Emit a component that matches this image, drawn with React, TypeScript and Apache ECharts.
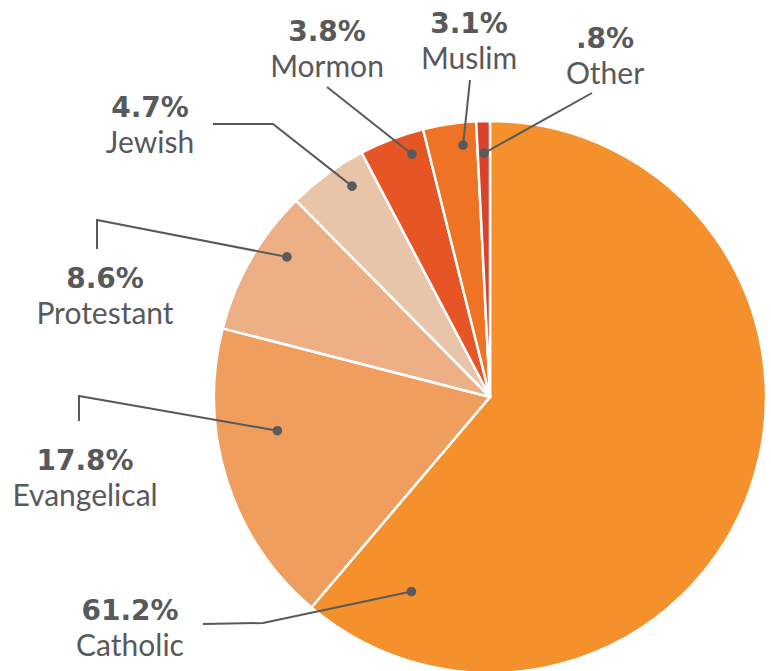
import React, { useEffect, useRef } from 'react';
import * as echarts from 'echarts';

const categories = ['Catholic', 'Evangelical', 'Protestant', 'Jewish', 'Mormon', 'Muslim', 'Other'];
const values = [61.2, 17.8, 8.6, 4.7, 3.8, 3.1, 0.8];
const colors = ['#F5912D', '#EF9E5E', '#EDAF85', '#E8C4A9', '#E55526', '#EE7324', '#D8432B'];

const CX = 490;
const CY = 397;
const R = 276;
const INK = '#58595B';

// Leader-line layout per slice: dot (angle clockwise from top, radius fraction), bends, label anchor
const dotAngles = [202, 261, 304.6, 326.8, 342.2, 353.9, 358.6];
const dotRadii = [0.76, 0.78, 0.894, 0.913, 0.924, 0.918, 0.884];
const bends: number[][][] = [
  [[263, 623], [203, 624]],
  [[79, 396], [79, 421]],
  [[97, 220], [97, 249]],
  [[273, 124], [213, 124]],
  [[327, 87]],
  [[470, 80]],
  [[592, 93]],
];
const labelAnchors = [
  [130, 627],
  [85, 477],
  [105, 295],
  [150, 124],
  [327, 48],
  [469, 40],
  [605, 55],
];

function fmt(v: number): string {
  const s = v.toFixed(1);
  return s.startsWith('0') ? s.slice(1) : s;
}

export default function App() {
  const ref = useRef<HTMLDivElement>(null);
  useEffect(() => {
    document.body.style.margin = '0';
    if (!ref.current) return;
    const chart = echarts.init(ref.current, undefined, { renderer: 'svg' });
    const nameFont = 'Lato, "Open Sans", sans-serif';
    const pctFont = '"DejaVu Sans", Lato, sans-serif';
    chart.setOption({
      animation: false,
      backgroundColor: '#ffffff',
      polar: { center: [CX, CY], radius: R },
      angleAxis: { type: 'value', min: 0, max: 360, startAngle: 90, clockwise: true, show: false },
      radiusAxis: { type: 'value', min: 0, max: 1, show: false },
      series: [
        {
          type: 'pie',
          center: [CX, CY],
          radius: R,
          startAngle: 90,
          clockwise: true,
          avoidLabelOverlap: false,
          itemStyle: { borderColor: '#ffffff', borderWidth: 2.5 },
          data: categories.map((c, i) => ({ name: c, value: values[i], itemStyle: { color: colors[i] } })),
          label: {
            show: true,
            position: 'outside',
            formatter: (p: any) => `{p|${fmt(p.value)}%}\n{n|${p.name}}`,
            rich: {
              p: { fontFamily: pctFont, fontSize: 28, fontWeight: 'bold', color: INK, lineHeight: 34, align: 'center' },
              n: { fontFamily: nameFont, fontSize: 30, fontWeight: 'normal', color: INK, lineHeight: 34, align: 'center' },
            },
          },
          labelLine: { show: false },
          labelLayout: (params: any) => {
            const i = params.dataIndex;
            return {
              x: labelAnchors[i][0],
              y: labelAnchors[i][1],
              align: 'center',
              verticalAlign: 'middle',
            };
          },
          emphasis: { disabled: true },
        },
        {
          type: 'custom',
          coordinateSystem: 'polar',
          silent: true,
          z: 5,
          data: dotAngles.map((a, i) => [dotRadii[i], a]),
          renderItem: (params: any, api: any) => {
            const i = params.dataIndex;
            const p = api.coord([api.value(0), api.value(1)]);
            const pts = [p, ...bends[i]];
            return {
              type: 'group',
              children: [
                {
                  type: 'polyline',
                  shape: { points: pts },
                  style: { stroke: INK, lineWidth: 2, fill: null },
                },
                {
                  type: 'circle',
                  shape: { cx: p[0], cy: p[1], r: 4.8 },
                  style: { fill: INK },
                },
              ],
            };
          },
        },
      ],
    });
    return () => chart.dispose();
  }, []);
  return <div ref={ref} style={{ width: 771, height: 671 }} />;
}
